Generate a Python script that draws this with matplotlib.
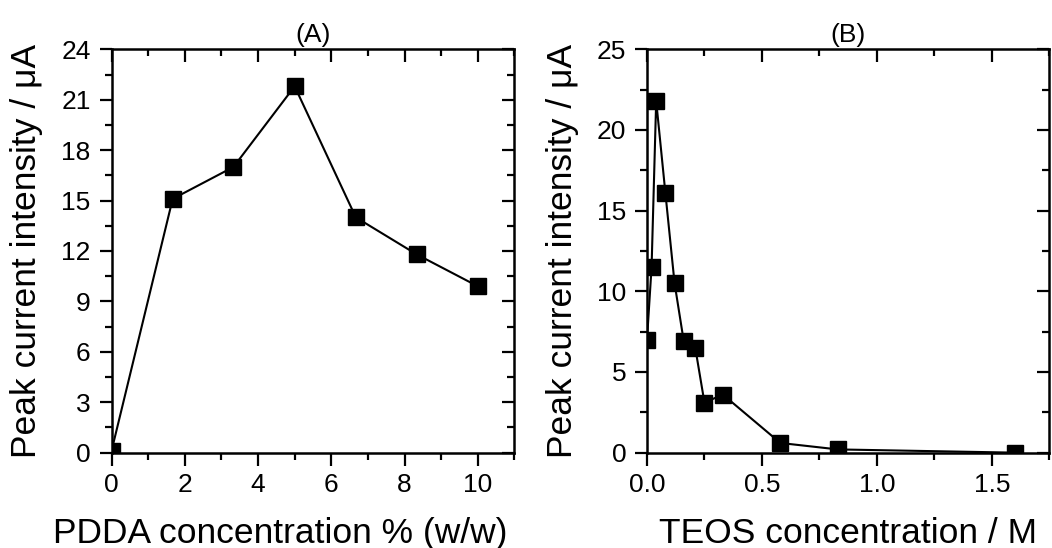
#Import needed packages
import matplotlib
matplotlib.use('Agg')
import matplotlib.pyplot as plt
from matplotlib.ticker import MultipleLocator, FormatStrFormatter

#Data
pdda_conc = [0, 1.67, 3.33, 5.0, 6.67, 8.33, 10.0]
pdda_current = [0.1, 15.1, 17.0, 21.8, 14.0, 11.8, 9.9]

teos_conc = [0.0, 0.02, 0.04, 0.08, 0.12, 0.16, 0.21, 0.25, 0.33, 0.58, 0.83, 1.6]
teos_current = [7.0, 11.5, 21.8, 16.1, 10.5, 6.9, 6.5, 3.1, 3.6, 0.6, 0.2, 0.0]

plt.rcParams['font.family'] = ['Liberation Sans', 'DejaVu Sans']

fig = plt.figure(figsize=(10.52, 5.48), dpi=100)
ax_a = fig.add_axes([0.106, 0.174, 0.383, 0.736])
ax_b = fig.add_axes([0.615, 0.174, 0.3825, 0.736])

#Common styling for both panels
def style_axis(ax):
    for sp in ax.spines.values():
        sp.set_linewidth(1.8)
    ax.tick_params(which='both', width=1.6, labelsize=19, pad=6)
    ax.tick_params(which='major', length=9)
    ax.tick_params(which='minor', length=5)
    ax.tick_params(which='both', top=True, right=True, labeltop=False, labelright=False)
    ax.tick_params(which='both', direction='out')
    #outward on bottom/left, inward on top/right
    for t in ax.xaxis.get_major_ticks() + ax.xaxis.get_minor_ticks():
        t.tick2line.set_marker(3)
    for t in ax.yaxis.get_major_ticks() + ax.yaxis.get_minor_ticks():
        t.tick2line.set_marker(0)

#Panel A
ax_a.plot(pdda_conc, pdda_current, color='black', lw=1.5, marker='s',
          markersize=11, markerfacecolor='black')
ax_a.set_xlim(0, 11)
ax_a.set_ylim(0, 24)
ax_a.xaxis.set_major_locator(MultipleLocator(2))
ax_a.xaxis.set_minor_locator(MultipleLocator(1))
ax_a.yaxis.set_major_locator(MultipleLocator(3))
ax_a.yaxis.set_minor_locator(MultipleLocator(1.5))
ax_a.set_xlabel('PDDA concentration % (w/w)', fontsize=25.5, labelpad=14)
ax_a.xaxis.label.set_x(0.418)
ax_a.set_ylabel('Peak current intensity / μA', fontsize=25.5, labelpad=13)
ax_a.set_title('(A)', fontsize=19, pad=5)

#Panel B
ax_b.plot(teos_conc, teos_current, color='black', lw=1.5, marker='s',
          markersize=11, markerfacecolor='black')
ax_b.set_xlim(0, 1.75)
ax_b.set_ylim(0, 25)
ax_b.xaxis.set_major_locator(MultipleLocator(0.5))
ax_b.xaxis.set_minor_locator(MultipleLocator(0.25))
ax_b.yaxis.set_major_locator(MultipleLocator(5))
ax_b.yaxis.set_minor_locator(MultipleLocator(2.5))
ax_b.xaxis.set_major_formatter(FormatStrFormatter('%.1f'))
ax_b.set_xlabel('TEOS concentration / M', fontsize=25.5, labelpad=14)
ax_b.set_ylabel('Peak current intensity / μA', fontsize=25.5, labelpad=13)
ax_b.set_title('(B)', fontsize=19, pad=5)

style_axis(ax_a)
style_axis(ax_b)

fig.savefig('out.png', dpi=100)
